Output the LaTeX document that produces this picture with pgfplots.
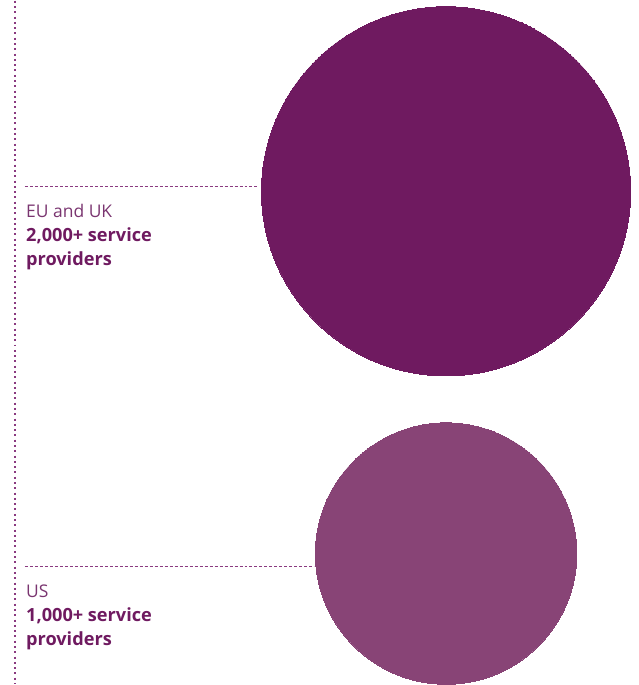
\documentclass[border=0pt]{standalone}
\usepackage{pgfplots}
\pgfplotsset{compat=1.18}
\usepackage{fontspec}
\setmainfont{Open Sans}
\definecolor{bigc}{HTML}{6F1A60}
\definecolor{smallc}{HTML}{884476}
\definecolor{lightt}{HTML}{7A3570}
\definecolor{darkt}{HTML}{6F1A60}
\definecolor{dotc}{HTML}{8A3A80}
\begin{document}
\begin{tikzpicture}
\begin{axis}[
  width=640pt, height=685pt, scale only axis,
  xmin=0, xmax=640, ymin=0, ymax=685, y dir=reverse,
  axis lines=none, clip=false,
]
\path[draw=none] (axis cs:0,0) rectangle (axis cs:640,685);
% bubbles: area proportional to number of providers (2000 vs 1000)
\addplot[only marks, mark=*, mark size=185pt, mark options={draw=bigc, fill=bigc, line width=0pt}] coordinates {(447,191)};
\addplot[only marks, mark=*, mark size=131pt, mark options={draw=smallc, fill=smallc, line width=0pt}] coordinates {(447,554)};
% leader lines
\addplot[dotc, line width=1.4pt, dash pattern=on 2pt off 3.3pt, no marks] coordinates {(15,0) (15,685)};
\addplot[dotc, line width=1.1pt, dash pattern=on 3pt off 2pt, no marks] coordinates {(25,186) (258,186)};
\addplot[dotc, line width=1.1pt, dash pattern=on 3pt off 2pt, no marks] coordinates {(25,567) (315,567)};
% labels
\node[anchor=base west, inner sep=0pt, font=\fontsize{17.5}{20}\selectfont, text=lightt] at (axis cs:26,217.7) {EU and UK};
\node[anchor=base west, inner sep=0pt, font=\fontsize{18.2}{20}\selectfont\bfseries, text=darkt] at (axis cs:26,241.7) {2,000+ service};
\node[anchor=base west, inner sep=0pt, font=\fontsize{18.2}{20}\selectfont\bfseries, text=darkt] at (axis cs:26,265.7) {providers};
\node[anchor=base west, inner sep=0pt, font=\fontsize{17.5}{20}\selectfont, text=lightt] at (axis cs:26,598) {US};
\node[anchor=base west, inner sep=0pt, font=\fontsize{18.2}{20}\selectfont\bfseries, text=darkt] at (axis cs:26,622.3) {1,000+ service};
\node[anchor=base west, inner sep=0pt, font=\fontsize{18.2}{20}\selectfont\bfseries, text=darkt] at (axis cs:26,646) {providers};
\end{axis}
\end{tikzpicture}
\end{document}
